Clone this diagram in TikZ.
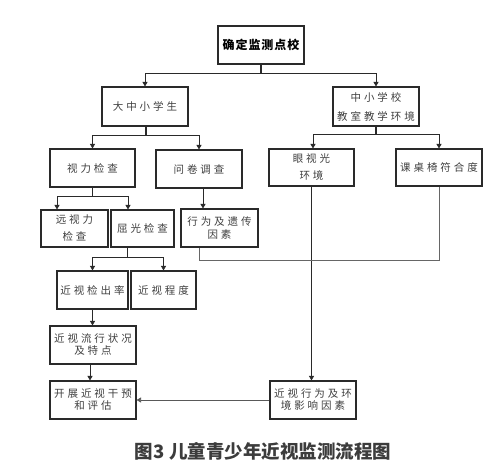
\documentclass[tikz,border=0pt]{standalone}
\usepackage{fontspec}
\usetikzlibrary{arrows.meta}
\newfontfamily\cjkbox[LetterSpace=28]{Noto Sans CJK SC}
\newfontfamily\cjkbold[LetterSpace=8]{Noto Sans CJK SC}
\newfontfamily\cjkcap{Noto Sans CJK SC}
\definecolor{boxtext}{HTML}{3F3F3F}
\definecolor{linecol}{HTML}{2A2A2A}
\definecolor{captext}{HTML}{3C3C3C}
\tikzset{
  fbox/.style={draw=linecol, line width=1.1pt, inner sep=0pt, align=center,
    font=\cjkbox\fontsize{10.5}{13}\selectfont, text=boxtext},
  conn/.style={draw=linecol, line width=0.8pt},
  arr/.style={conn, -{Triangle[length=4.5pt,width=5pt]}},
}
\begin{document}
\begin{tikzpicture}[x=1pt,y=-1pt]
\useasboundingbox (0,0) rectangle (504,474);
\fill[white] (0,0) rectangle (504,474);
% nodes
\node[fbox, minimum width=86pt, minimum height=38pt, font=\cjkbold\bfseries\fontsize{12}{14}\selectfont, text=black] (top) at (261,45) {确定监测点校};
\node[fbox, minimum width=86pt, minimum height=39pt] (dzx) at (145,106.5) {大中小学生};
\node[fbox, minimum width=86pt, minimum height=39pt, font=\cjkbox\fontsize{10.5}{19}\selectfont] (zxx) at (376,106.5) {中小学校\\教室教学环境};
\node[fbox, minimum width=85pt, minimum height=38pt] (slj) at (92.5,168) {视力检查};
\node[fbox, minimum width=86pt, minimum height=38pt] (wj) at (199,169) {问卷调查};
\node[fbox, minimum width=85pt, minimum height=37pt, font=\cjkbox\fontsize{10.5}{17}\selectfont] (ysg) at (311.5,167.5) {眼视光\\环境};
\node[fbox, minimum width=86pt, minimum height=37pt] (kzy) at (439,167.5) {课桌椅符合度};
\node[fbox, minimum width=67pt, minimum height=37pt, font=\cjkbox\fontsize{10.5}{17}\selectfont] (ysl) at (74.5,228.5) {远视力\\检查};
\node[fbox, minimum width=63pt, minimum height=37pt] (qg) at (142.5,228.5) {屈光检查};
\node[fbox, minimum width=77pt, minimum height=38pt, font=\cjkbox\fontsize{10.5}{13}\selectfont] (xw) at (219.5,228) {行为及遗传\\因素};
\node[fbox, minimum width=71pt, minimum height=38pt] (jc) at (92.5,290) {近视检出率};
\node[fbox, minimum width=65pt, minimum height=38pt] (cd) at (163.5,290) {近视程度};
\node[fbox, minimum width=86pt, minimum height=38pt, font=\cjkbox\fontsize{10.5}{12}\selectfont] (lx) at (93,345) {近视流行状况\\及特点};
\node[fbox, minimum width=86pt, minimum height=38pt, font=\cjkbox\fontsize{10.5}{12}\selectfont] (gy) at (93,400) {开展近视干预\\和评估};
\node[fbox, minimum width=86pt, minimum height=38pt, font=\cjkbox\fontsize{10.5}{12}\selectfont] (hj) at (313,400) {近视行为及环\\境影响因素};
\node[font=\cjkcap\bfseries\fontsize{18.5}{20}\selectfont, text=captext, inner sep=0pt] (cap) at (263,451) {图3\hspace{5pt}儿童青少年近视监测流程图};
% junctions
\coordinate (j1) at (261,73);
\coordinate (j2) at (146,135);
\coordinate (j3) at (376,134);
\coordinate (j4) at (92.5,196);
\coordinate (j5) at (127,257);
% connectors
\draw[conn, line width=1.3pt] (top.south) -- (j1);
\draw[arr] (j1) -| (dzx.north);
\draw[arr] (j1) -| (zxx.north);
\draw[conn, line width=1.1pt] (dzx.south -| j2) -- (j2);
\draw[arr] (j2) -| (slj.north);
\draw[arr] (j2) -| (wj.north);
\draw[conn, line width=1.1pt] (zxx.south) -- (j3);
\draw[arr] (j3) -| ([xshift=1.5pt]ysg.north);
\draw[arr] (j3) -| (kzy.north);
\draw[conn, line width=1.1pt] (slj.south) -- (j4);
\draw[arr] (j4) -| ([xshift=-17.5pt]ysl.north);
\draw[arr] (j4) -| ([xshift=-14.5pt]qg.north);
\draw[arr] ([xshift=4pt]wj.south) -- ([xshift=4pt]wj.south |- xw.north);
\draw[conn] ([xshift=-15.5pt]qg.south) -- (j5);
\draw[arr] (j5) -| (jc.north);
\draw[arr] (j5) -| (cd.north);
\draw[arr] (jc.south) -- (jc.south |- lx.north);
\draw[arr] ([xshift=-3pt]lx.south) -- ([xshift=-3pt]lx.south |- gy.north);
\draw[arr] (ysg.south) -- (ysg.south |- hj.north);
\draw[conn, draw=gray!80!black] ([xshift=-20.5pt]xw.south) -- ++(0,13) -| (kzy.south);
\draw[arr, draw=gray!70!black] (hj.west) -- (gy.east);
\end{tikzpicture}
\end{document}
